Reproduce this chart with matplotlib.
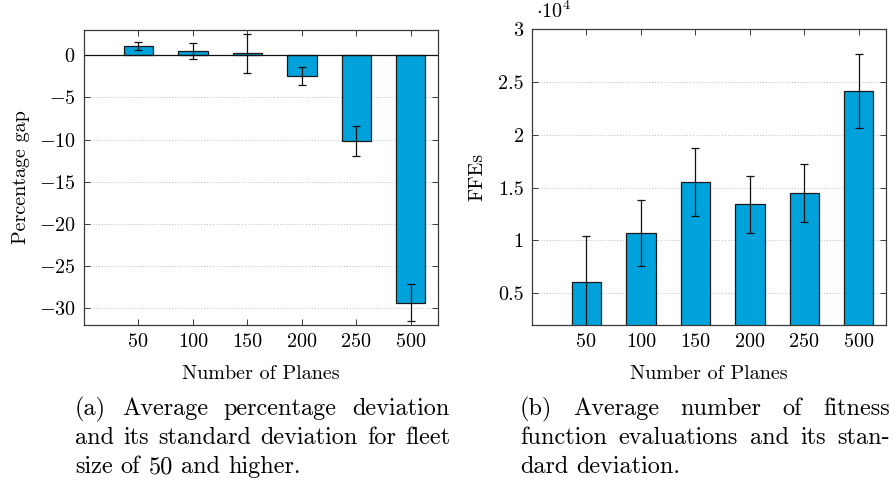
import numpy as np
import matplotlib
matplotlib.use("Agg")
import matplotlib.pyplot as plt
from matplotlib.ticker import FixedLocator, FuncFormatter

plt.rcParams.update({
    'font.family': 'cmr10',
    'mathtext.fontset': 'cm',
    'axes.unicode_minus': False,
})

planes = ['50', '100', '150', '200', '250', '500']

gap_mean = [1.13, 0.51, 0.24, -2.43, -10.2, -29.35]
gap_std = [0.45, 0.95, 2.33, 1.04, 1.78, 2.21]

ffe_mean = [6040, 10700, 15500, 13400, 14500, 24130]
ffe_std = [4400, 3080, 3200, 2700, 2750, 3500]

captions = [
    ["(a) Average percentage deviation",
     "and its standard deviation for fleet",
     "size of 50 and higher."],
    ["(b) Average number of fitness",
     "function evaluations and its stan-",
     "dard deviation."],
]

bar_color = '#00a2db'
frame_color = '#3a3a3a'
W, H = 894, 483
fs = 14.5

fig = plt.figure(figsize=(W / 100, H / 100), dpi=100)


def px_axes(x0, y0, x1, y1):
    # axes placed from pixel corners (top-left origin)
    return fig.add_axes([x0 / W, 1 - y1 / H, (x1 - x0) / W, (y1 - y0) / H])


def style(ax, ylim, yticks):
    x = np.arange(len(planes))
    ax.set_xlim(-1.0, 5.5)
    ax.set_ylim(*ylim)
    ax.xaxis.set_major_locator(FixedLocator(x))
    ax.set_xticklabels(planes)
    ax.yaxis.set_major_locator(FixedLocator(yticks))
    ax.tick_params(direction='in', length=4, width=0.7, color=frame_color,
                   top=True, right=True, labelsize=fs, pad=6)
    ax.grid(axis='y', linestyle=(0, (1, 2)), color='#bbbbbb', linewidth=0.7)
    ax.set_axisbelow(True)
    for s in ax.spines.values():
        s.set_color(frame_color)
        s.set_linewidth(0.9)
    ax.set_xlabel('Number of Planes', fontsize=fs, labelpad=10)


def draw_bars(ax, mean, std):
    x = np.arange(len(planes))
    ax.bar(x, mean, width=0.54, color=bar_color, edgecolor='#1a1a1a',
           linewidth=0.9, zorder=2)
    ax.errorbar(x, mean, yerr=std, fmt='none', ecolor='#111111',
                elinewidth=0.9, capsize=3, capthick=0.9, zorder=3)


# (a) percentage gap
ax1 = px_axes(84, 30, 438, 325)
draw_bars(ax1, gap_mean, gap_std)
ax1.axhline(0, color='#111111', linewidth=0.9, zorder=2.5)
style(ax1, (-32, 3), [0, -5, -10, -15, -20, -25, -30])
ax1.yaxis.set_major_formatter(FuncFormatter(lambda v, p: f'${v:g}$'))
ax1.set_ylabel('Percentage gap', fontsize=fs, labelpad=6)

# (b) fitness function evaluations
ax2 = px_axes(532, 29, 886, 325)
draw_bars(ax2, ffe_mean, ffe_std)
style(ax2, (2000, 30000), [5000, 10000, 15000, 20000, 25000, 30000])
ax2.yaxis.set_major_formatter(FuncFormatter(lambda v, p: f'{v / 1e4:g}'))
ax2.set_ylabel('FFEs', fontsize=fs, labelpad=8)
ax2.text(0.01, 1.025, r'$\cdot 10^{4}$', transform=ax2.transAxes,
         fontsize=fs, ha='left', va='bottom')


def justified(lines, x0, x1, y0, dy, size):
    renderer = fig.canvas.get_renderer()
    for i, line in enumerate(lines):
        y = 1 - (y0 + i * dy) / H
        words = line.split(' ')
        items = [fig.text(0, y, w, fontsize=size, va='baseline') for w in words]
        widths = [t.get_window_extent(renderer).width for t in items]
        if i == len(lines) - 1:
            gap = size * 0.333 * 100 / 72
        else:
            gap = (x1 - x0 - sum(widths)) / (len(words) - 1)
        x = x0
        for t, w in zip(items, widths):
            t.set_x(x / W)
            x += w + gap


justified(captions[0], 75, 450, 415, 29, 17.5)
justified(captions[1], 520, 890, 415, 29, 17.5)

fig.savefig('out.png', dpi=100)
